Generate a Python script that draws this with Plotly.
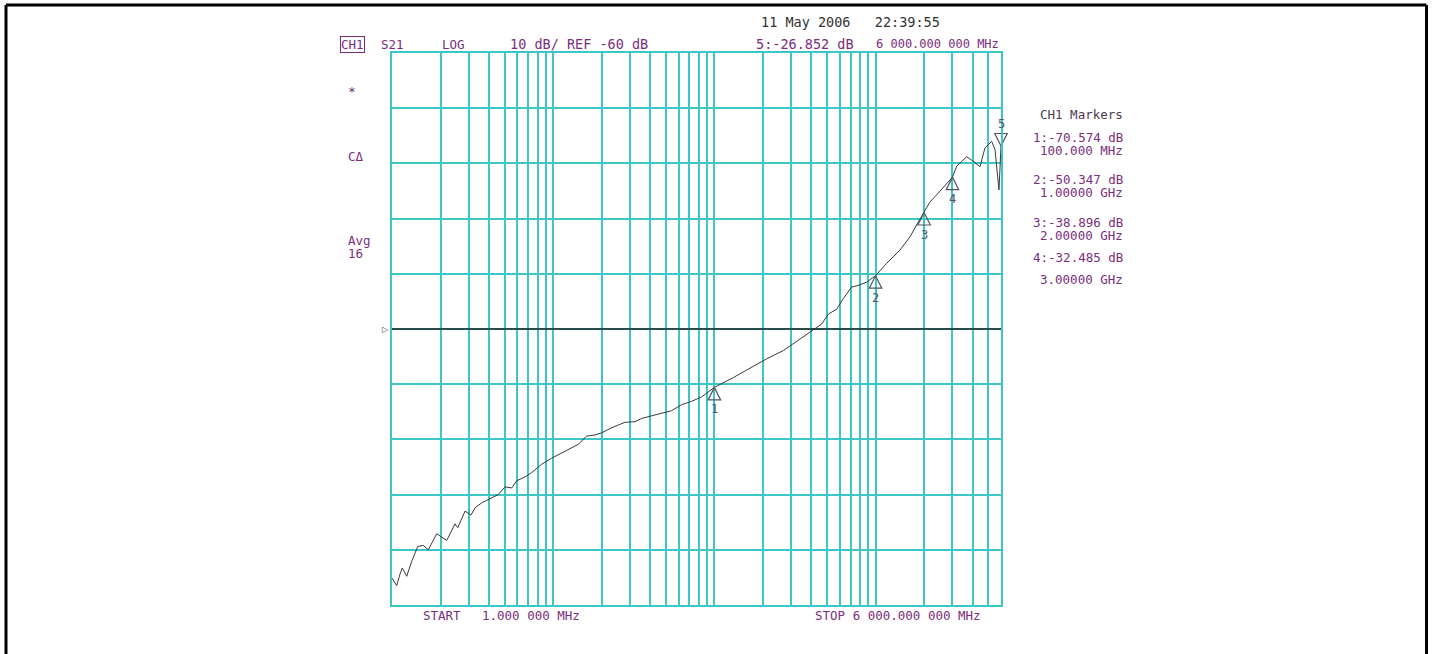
import math
import plotly.graph_objects as go

# ---- data ----
freq_mhz = [1.0, 1.069, 1.121, 1.158, 1.234, 1.325, 1.444, 1.564, 1.68, 1.894,
            2.185, 2.459, 2.556, 2.837, 3.091, 3.273, 3.601, 4.155, 4.564, 5.023,
            5.528, 5.935, 6.684, 7.356, 8.484, 9.79, 11.84, 14.31, 16.14, 18.17,
            20.0, 23.06, 27.88, 32.17, 35.4, 40.8, 47.1, 54.3, 62.7, 72.3,
            83.4, 100.0, 131, 166, 211, 268, 340, 411, 463, 509,
            574, 630, 711, 781, 881, 1000, 1172, 1417, 1635, 1840,
            2000, 2175, 2393, 2695, 3000, 3186, 3674, 3948, 4442, 4771,
            5252, 5506, 5721, 5829, 5933, 6000]
s21_db = [-105.1, -106.5, -104.4, -103.3, -104.8, -102.1, -99.4, -99.2, -100.0, -97.1,
          -98.3, -95.3, -96.0, -93.0, -93.7, -92.4, -91.5, -90.6, -90.0, -88.6,
          -88.8, -87.5, -86.8, -86.0, -84.5, -83.4, -82.1, -80.9, -79.4, -79.2,
          -78.8, -77.9, -76.9, -76.8, -76.2, -75.7, -75.3, -74.8, -73.7, -73.1,
          -72.3, -70.574, -68.8, -67.1, -65.4, -63.9, -61.8, -60.1, -59.1, -57.3,
          -56.4, -54.5, -52.4, -52.1, -51.5, -50.347, -48.1, -45.7, -43.3, -40.6,
          -38.896, -37.0, -35.7, -33.9, -32.485, -30.5, -28.8, -29.4, -30.6, -27.2,
          -26.0, -27.5, -33.0, -34.8, -30.0, -26.852]

marker_freq_mhz = [100, 1000, 2000, 3000, 6000]
marker_db = [-70.574, -50.347, -38.896, -32.485, -26.852]
marker_ids = ["1", "2", "3", "4", "5"]

marker_lines = ["CH1 Markers",
                "1:-70.574 dB", "100.000 MHz",
                "2:-50.347 dB", "1.00000 GHz",
                "3:-38.896 dB", "2.00000 GHz",
                "4:-32.485 dB", "3.00000 GHz"]

grid_freqs = [m * 10 ** d for d in range(4) for m in range(1, 10) if m * 10 ** d <= 6000]
db_ticks = list(range(-110, -9, 10))
ref_level = -60

# ---- styling ----
CYAN = "#3cc6c6"
PURPLE = "#7b2d7b"
DARK = "#333333"
MARK = "#555566"
FONT = "DejaVu Sans Mono"
W, H = 1432, 654
L, R, T, B = 392, 1001, 53, 605


def px(x):
    return (x - L) / (R - L)


def py(y):
    return (B - y) / (B - T)


fig = go.Figure()
fig.add_trace(go.Scatter(x=freq_mhz, y=s21_db, mode="lines",
                         line=dict(color="#3a3a3a", width=1), hoverinfo="skip"))

# marker triangles (tip on the trace point)
up_f = [f for f, m in zip(marker_freq_mhz, marker_ids) if m != "5"]
up_d = [d for d, m in zip(marker_db, marker_ids) if m != "5"]
dn_f = [f for f, m in zip(marker_freq_mhz, marker_ids) if m == "5"]
dn_d = [d for d, m in zip(marker_db, marker_ids) if m == "5"]
fig.add_trace(go.Scatter(x=up_f, y=up_d, mode="markers", hoverinfo="skip", cliponaxis=False,
                         marker=dict(symbol="arrow-up-open", size=12.5,
                                     color=MARK, line=dict(color=MARK, width=1.2))))
fig.add_trace(go.Scatter(x=dn_f, y=dn_d, mode="markers", hoverinfo="skip", cliponaxis=False,
                         marker=dict(symbol="arrow-down-open", size=12.5,
                                     color=MARK, line=dict(color=MARK, width=1.2))))

ann = []


def txt(x, y, s, color=PURPLE, anchor="left", size=12.5, **kw):
    ann.append(dict(x=px(x), y=py(y), xref="paper", yref="paper", text=s,
                    showarrow=False, xanchor=anchor, yanchor="middle",
                    font=dict(family=FONT, size=size, color=color), **kw))


txt(759, 22, "11 May 2006   22:39:55", color=DARK, size=13.5)
txt(340, 44, "CH1", bordercolor=PURPLE, borderwidth=1, borderpad=0)
txt(379, 44, "S21")
txt(440, 44, "LOG")
txt(508, 44, "10 dB/ REF -60 dB", size=13.5)
txt(754, 44, "5:-26.852 dB", size=13.5)
txt(874, 44, "6 000.000 000 MHz", size=12)
txt(346, 92, "*", size=13)
txt(346, 157, "CΔ")
txt(346, 241, "Avg")
txt(346, 254, "16")
txt(421, 615, "START")
txt(480, 615, "1.000 000 MHz")
txt(813, 615, "STOP 6 000.000 000 MHz")

ys_right = [114, 137, 150, 179, 192, 222, 235, 257, 279]
for s, yy in zip(marker_lines, ys_right):
    txt(1125, yy, s, anchor="right", color=("#4a3a52" if s.startswith("CH1") else PURPLE))

# reference-level pointer
ann.append(dict(x=0, y=ref_level, xref="paper", yref="y", text="▷", showarrow=False,
                xanchor="right", yanchor="middle", xshift=-1,
                font=dict(family="DejaVu Sans", size=8, color="#444")))

# marker numbers
for f, d, m in zip(marker_freq_mhz, marker_db, marker_ids):
    xl = math.log10(f)
    if m == "5":
        ann.append(dict(x=xl, y=d, xref="x", yref="y", text=m, showarrow=False,
                        xanchor="center", yanchor="bottom", yshift=13,
                        font=dict(family=FONT, size=12, color=MARK)))
    else:
        ann.append(dict(x=xl, y=d, xref="x", yref="y", text=m, showarrow=False,
                        xanchor="center", yanchor="top", yshift=-13,
                        font=dict(family=FONT, size=12, color=MARK)))

shapes = [
    dict(type="line", xref="paper", yref="y", x0=0, x1=1, y0=ref_level, y1=ref_level,
         line=dict(color="#222222", width=1.5), layer="above"),
    dict(type="line", xref="paper", yref="paper", x0=px(6), x1=px(1426.5), y0=py(5), y1=py(5),
         line=dict(color="black", width=3)),
    dict(type="line", xref="paper", yref="paper", x0=px(6), x1=px(6), y0=py(5), y1=py(700),
         line=dict(color="black", width=3)),
    dict(type="line", xref="paper", yref="paper", x0=px(1426.5), x1=px(1426.5), y0=py(5), y1=py(700),
         line=dict(color="black", width=3)),
]

fig.update_layout(
    width=W, height=H,
    margin=dict(l=L, r=W - R, t=T, b=H - B),
    paper_bgcolor="white", plot_bgcolor="white",
    showlegend=False,
    annotations=ann, shapes=shapes,
    xaxis=dict(type="log", range=[0, math.log10(6000)], tickvals=grid_freqs,
               showticklabels=False, ticks="", showgrid=True, gridcolor=CYAN, gridwidth=1.5,
               showline=True, mirror=True, linecolor=CYAN, linewidth=2, zeroline=False,
               fixedrange=True),
    yaxis=dict(range=[-110, -10], tickvals=db_ticks, showticklabels=False, ticks="",
               showgrid=True, gridcolor=CYAN, gridwidth=1.5, showline=True, mirror=True,
               linecolor=CYAN, linewidth=2, zeroline=False, fixedrange=True),
)

fig.write_html("out.html", config={"displayModeBar": False},
               post_script="document.body.style.margin='0';document.body.style.overflow='hidden';")
